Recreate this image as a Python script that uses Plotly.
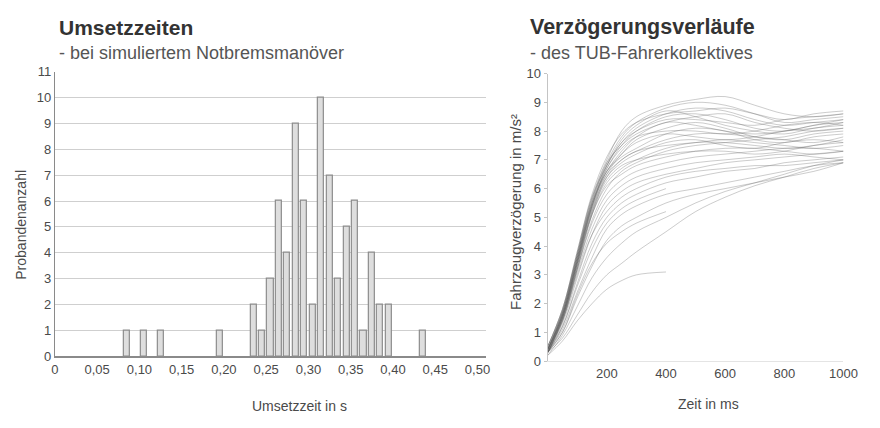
import plotly.graph_objects as go

# ---- Histogram: Umsetzzeiten (bin centres in s, counts) ----
umsetzzeit = [0.085, 0.105, 0.125, 0.195,
              0.235, 0.245, 0.255, 0.265, 0.275, 0.285, 0.295, 0.305,
              0.315, 0.325, 0.335, 0.345, 0.355, 0.365, 0.375, 0.385,
              0.395, 0.435]
probanden = [1, 1, 1, 1,
             2, 1, 3, 6, 4, 9, 6, 2,
             10, 7, 3, 5, 6, 1, 4, 2,
             2, 1]
x_ticks = [0, 0.05, 0.10, 0.15, 0.20, 0.25, 0.30, 0.35, 0.40, 0.45, 0.50]
x_ticktext = ["0", "0,05", "0,10", "0,15", "0,20", "0,25", "0,30",
              "0,35", "0,40", "0,45", "0,50"]

# ---- Deceleration curves: time in ms, deceleration in m/s^2 ----
zeit_ms = [0, 50, 100, 150, 200, 250, 300, 400, 500, 600, 700, 800, 900, 1000]
verlaeufe = [
    [0.4, 1.7, 3.7, 5.7, 7.0, 8.0, 8.5, 8.9, 9.1, 9.2, 8.9, 8.6, 8.5, 8.6],
    [0.3, 1.6, 3.5, 5.5, 6.9, 7.8, 8.3, 8.8, 9.0, 8.9, 8.6, 8.3, 8.4, 8.5],
    [0.5, 1.8, 3.8, 5.7, 6.8, 7.6, 8.1, 8.6, 8.8, 8.7, 8.4, 8.2, 8.3, 8.4],
    [0.4, 1.6, 3.6, 5.5, 6.7, 7.5, 8.0, 8.5, 8.6, 8.4, 8.1, 8.0, 8.2, 8.3],
    [0.3, 1.5, 3.4, 5.4, 6.8, 7.7, 8.2, 8.7, 8.5, 8.2, 8.0, 7.9, 8.1, 8.2],
    [0.4, 1.7, 3.6, 5.6, 6.9, 7.5, 7.9, 8.3, 8.5, 8.6, 8.3, 8.1, 8.0, 8.1],
    [0.5, 1.8, 3.7, 5.5, 6.6, 7.3, 7.8, 8.3, 8.2, 8.0, 7.9, 8.0, 8.2, 8.4],
    [0.3, 1.5, 3.3, 5.2, 6.5, 7.2, 7.7, 8.1, 8.3, 8.1, 7.8, 7.7, 7.9, 8.0],
    [0.4, 1.6, 3.5, 5.4, 6.6, 7.1, 7.4, 7.9, 8.1, 8.0, 7.7, 7.6, 7.8, 7.9],
    [0.3, 1.4, 3.2, 5.1, 6.4, 7.0, 7.3, 7.7, 7.9, 7.9, 7.8, 7.7, 7.6, 7.8],
    [0.4, 1.6, 3.5, 5.3, 6.4, 6.9, 7.2, 7.6, 7.7, 7.5, 7.4, 7.6, 7.7, 7.6],
    [0.5, 1.7, 3.6, 5.4, 6.5, 7.0, 7.3, 7.5, 7.6, 7.7, 7.6, 7.5, 7.4, 7.5],
    [0.3, 1.5, 3.3, 5.1, 6.2, 6.7, 7.0, 7.4, 7.6, 7.6, 7.5, 7.4, 7.5, 7.7],
    [0.4, 1.5, 3.4, 5.2, 6.3, 6.8, 7.0, 7.2, 7.3, 7.3, 7.2, 7.3, 7.5, 7.6],
    [0.4, 1.6, 3.4, 5.1, 6.1, 6.5, 6.8, 7.1, 7.3, 7.4, 7.4, 7.3, 7.2, 7.3],
    [0.3, 1.4, 3.2, 4.9, 6.0, 6.6, 6.9, 7.3, 7.5, 7.6, 7.7, 7.8, 8.0, 8.1],
    [0.4, 1.5, 3.2, 4.8, 5.8, 6.3, 6.6, 6.9, 7.1, 7.2, 7.3, 7.4, 7.4, 7.3],
    [0.3, 1.4, 3.1, 4.6, 5.6, 6.1, 6.4, 6.7, 6.9, 7.0, 7.1, 7.2, 7.1, 7.0],
    [0.3, 1.3, 2.9, 4.4, 5.4, 5.9, 6.2, 6.5, 6.7, 6.9, 7.0, 7.1, 7.2, 7.3],
    [0.4, 1.4, 3.0, 4.4, 5.2, 5.7, 6.0, 6.4, 6.6, 6.7, 6.8, 6.8, 6.9, 7.0],
    [0.3, 1.2, 2.7, 4.1, 5.0, 5.5, 5.8, 6.2, 6.4, 6.6, 6.7, 6.9, 7.0, 7.1],
    [0.3, 1.1, 2.4, 3.6, 4.6, 5.1, 5.4, 5.8, 6.0, 6.2, 6.4, 6.6, 6.8, 6.9],
    [0.3, 1.0, 2.2, 3.3, 4.2, 4.7, 5.0, 5.5, 5.8, 6.0, 6.2, 6.4, 6.6, 6.9],
    [0.2, 0.9, 1.9, 2.9, 3.6, 4.1, 4.5, 5.0, 5.5, 5.9, 6.2, 6.5, 6.8, 7.0],
    [0.3, 0.8, 1.6, 2.4, 3.0, 3.4, 3.8, 4.5, 5.2, 5.7, 6.1, 6.4, 6.7, 6.9],
    [0.2, 0.7, 1.4, 2.0, 2.5, 2.8, 3.0, 3.1, None, None, None, None, None, None],
    [0.3, 1.0, 2.3, 3.4, 4.1, 4.5, 4.8, 5.2, None, None, None, None, None, None],
    [0.3, 1.2, 2.6, 3.9, 4.8, 5.3, 5.6, 6.0, None, None, None, None, None, None],
    [0.4, 1.7, 3.7, 5.6, 6.8, 7.6, 8.0, 8.4, 8.4, 8.3, 8.2, 8.4, 8.5, 8.6],
    [0.4, 1.6, 3.5, 5.4, 6.7, 7.4, 7.8, 8.0, 8.0, 7.9, 8.0, 8.2, 8.3, 8.2],
    [0.5, 1.8, 3.8, 5.8, 7.1, 7.9, 8.3, 8.6, 8.7, 8.8, 8.6, 8.4, 8.6, 8.7],
    [0.3, 1.5, 3.4, 5.3, 6.6, 7.2, 7.6, 7.9, 7.8, 7.7, 7.8, 8.0, 8.1, 8.3],
]

W, H = 880, 428
FONT = "Liberation Sans, Arial, sans-serif"
TXT = "#4a4a4a"
TICK = dict(size=13, color=TXT)

fig = go.Figure()

fig.add_trace(go.Bar(
    x=umsetzzeit, y=probanden, width=0.0072,
    marker=dict(color="#dedede", line=dict(color="#8c8c8c", width=1.2)),
    xaxis="x", yaxis="y", showlegend=False,
))

for kurve in verlaeufe:
    fig.add_trace(go.Scatter(
        x=zeit_ms, y=kurve, mode="lines", line_shape="spline",
        line=dict(color="rgba(95,95,95,0.32)", width=1),
        connectgaps=False, xaxis="x2", yaxis="y2", showlegend=False,
    ))

fig.update_layout(
    width=W, height=H,
    margin=dict(l=0, r=0, t=0, b=0),
    paper_bgcolor="white", plot_bgcolor="white",
    font=dict(family=FONT, size=13, color=TXT),
    xaxis=dict(
        domain=[52 / W, 492 / W], range=[0, 0.51],
        tickvals=x_ticks, ticktext=x_ticktext,
        showgrid=False, zeroline=False,
        showline=True, linecolor="#8a8a8a", linewidth=1.5,
        ticks="", tickfont=TICK,
    ),
    yaxis=dict(
        domain=[(H - 362) / H, (H - 67) / H], range=[0, 11],
        tickvals=list(range(0, 12)),
        showgrid=True, gridcolor="#cfcfcf", gridwidth=1,
        zeroline=False, showline=True, linecolor="#8a8a8a", linewidth=1,
        ticks="", tickfont=TICK,
    ),
    xaxis2=dict(
        domain=[555 / W, 857 / W], range=[0, 1000],
        tickvals=[200, 400, 600, 800, 1000],
        showgrid=False, zeroline=False,
        showline=True, linecolor="#e4e4e4", linewidth=1,
        ticks="", tickfont=TICK, anchor="y2",
    ),
    yaxis2=dict(
        domain=[(H - 367) / H, (H - 69) / H], range=[0, 10],
        tickvals=list(range(0, 11)),
        showgrid=False, zeroline=False,
        showline=True, linecolor="#c4c4c4", linewidth=1,
        ticks="outside", ticklen=3, tickcolor="#c4c4c4",
        tickfont=TICK, anchor="x2",
    ),
    bargap=0,
)

# Chart titles and subtitles
titles = [
    (54 / W, "<b>Umsetzzeiten</b>", 21, "- bei simuliertem Notbremsmanöver"),
    (535 / W, "<b>Verzögerungsverläufe</b>", 21.5, "- des TUB-Fahrerkollektives"),
]
for xpos, head, hsize, sub in titles:
    fig.add_annotation(x=xpos, y=1 - 21 / H, xref="paper", yref="paper",
                       xanchor="left", yanchor="middle", showarrow=False,
                       text=head, font=dict(size=hsize, color="#333333", family=FONT))
    fig.add_annotation(x=xpos, y=1 - 48 / H, xref="paper", yref="paper",
                       xanchor="left", yanchor="middle", showarrow=False,
                       text=sub, font=dict(size=18, color="#555555", family=FONT))

# Axis titles
axis_titles = [
    (302, 413, 0, "Umsetzzeit in s", 14),
    (719, 411, 0, "Zeit in ms", 14),
    (17, 226, -90, "Probandenanzahl", 14),
    (522, 212, -90, "Fahrzeugverzögerung in m/s²", 15),
]
for px, py, ang, txt, size in axis_titles:
    fig.add_annotation(x=px / W, y=1 - py / H, xref="paper", yref="paper",
                       xanchor="center", yanchor="middle", showarrow=False,
                       textangle=ang, text=txt,
                       font=dict(size=size, color=TXT, family=FONT))

fig.write_html("out.html")
